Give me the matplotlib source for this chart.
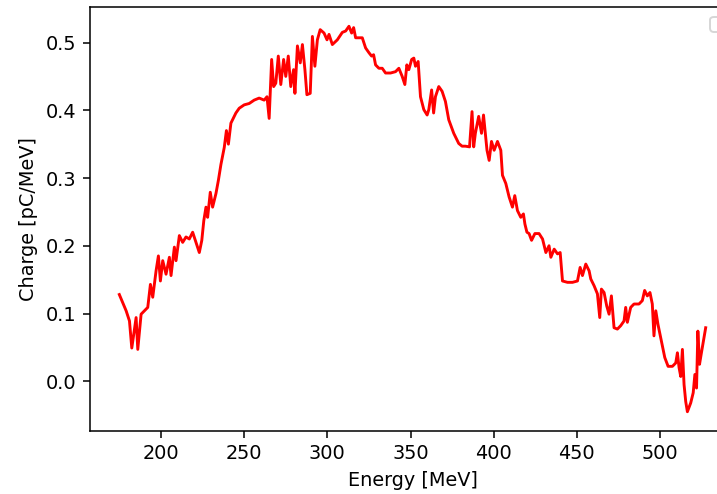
import matplotlib
matplotlib.use("Agg")
import matplotlib.pyplot as plt

# Energy spectrum
energy = [174.9, 179, 181, 182.4, 185, 186, 188, 190, 192, 193.6, 195, 197, 198.4, 199.6,
          201, 203, 205, 206, 208, 209, 211, 213, 215, 217, 219, 221, 223, 224.5, 225.7,
          227, 228, 229.6, 231, 233, 234.5, 236, 238, 239.3, 240.5, 242,
          245, 247, 250, 253, 256, 259, 262, 263.7, 265, 266.5, 267.7, 269, 270.5, 272,
          273.7, 275, 276.5, 278, 279.7, 280.5, 282, 283.7, 285, 286.5, 287.7, 289.7, 291,
          292.5, 294, 295.7, 298, 299.8, 301, 303, 306, 309, 311, 313, 314.6, 315.8, 317,
          319, 321, 323, 325, 326.6, 327.8, 329, 331, 333, 335, 338, 341, 343, 345, 346.6,
          347.8, 349, 350.7, 352, 353, 354.6, 356, 358, 360, 361, 362.7, 363.9, 365, 367,
          369, 371, 373, 376, 379, 381, 383, 385.5, 387, 388, 389, 391, 392.7, 393.9, 396,
          397.3, 398.7, 400.3, 402.3, 404.3, 405.3, 407.3, 409.3, 411.3, 412.7, 414.3, 416.3,
          417.9, 418.8, 420, 421.3, 422.8, 424.8, 427.3, 429.4, 431.4, 433.3, 434.4, 436.4,
          438.4, 440, 441.4, 444.4, 447.4, 450.4, 452, 453.4, 455.4, 457.4, 458.4, 460.4,
          462.4, 463.8, 464.8, 466.4, 468, 469.4, 470.8, 472.4, 474.4, 476.4, 478.4, 479.4,
          480.4, 482.4, 484.4, 487.4, 489.4, 490.8, 492.4, 494, 495.4, 496.4, 497.5, 498.8,
          500.9, 502.9, 504.9, 507.5, 509.5, 510.5, 511.5, 512.5, 513.5, 514.5, 515.5, 516.5,
          518.5, 520, 521, 522, 522.8, 523.8, 524.8, 527.5]
charge = [0.128, 0.104, 0.089, 0.049, 0.094, 0.047, 0.099, 0.104, 0.109, 0.143, 0.124, 0.163,
          0.185, 0.148, 0.178, 0.158, 0.183, 0.156, 0.198, 0.178, 0.215, 0.205, 0.213, 0.210,
          0.220, 0.205, 0.190, 0.208, 0.237, 0.257, 0.242, 0.279, 0.257, 0.277, 0.297, 0.320,
          0.345, 0.370, 0.350, 0.381,
          0.396, 0.403, 0.408, 0.410, 0.415, 0.418, 0.415, 0.420, 0.388, 0.475, 0.435, 0.440,
          0.480, 0.438, 0.475, 0.450, 0.480, 0.435, 0.460, 0.425, 0.495, 0.470, 0.497, 0.460,
          0.423, 0.425, 0.509, 0.465, 0.504, 0.519, 0.514, 0.504, 0.512, 0.497, 0.504, 0.515,
          0.517, 0.524, 0.514, 0.522, 0.507, 0.507, 0.507, 0.492, 0.485, 0.480, 0.482, 0.467,
          0.462, 0.462, 0.455, 0.455, 0.457, 0.462, 0.450, 0.438, 0.467, 0.460, 0.475, 0.477,
          0.465, 0.472, 0.420, 0.401, 0.393, 0.401, 0.430, 0.396, 0.420, 0.435, 0.428, 0.413,
          0.386, 0.366, 0.351, 0.347, 0.347, 0.346, 0.398, 0.346, 0.366, 0.391, 0.366, 0.393,
          0.341, 0.326, 0.354, 0.341, 0.354, 0.341, 0.304, 0.292, 0.272, 0.257, 0.274, 0.252,
          0.242, 0.247, 0.232, 0.220, 0.218, 0.208, 0.218, 0.218, 0.210, 0.190, 0.200, 0.183,
          0.195, 0.188, 0.190, 0.148, 0.146, 0.146, 0.148, 0.168, 0.156, 0.173, 0.163, 0.151,
          0.141, 0.129, 0.094, 0.136, 0.131, 0.111, 0.099, 0.126, 0.079, 0.077, 0.082, 0.089,
          0.109, 0.087, 0.109, 0.114, 0.114, 0.119, 0.134, 0.126, 0.131, 0.114, 0.067, 0.104,
          0.084, 0.059, 0.035, 0.022, 0.022, 0.027, 0.042, 0.020, 0.007, 0.047, -0.005, -0.030,
          -0.045, -0.032, -0.017, 0.010, -0.010, 0.074, 0.025, 0.040, 0.079]

dpi = 138.6
fig = plt.figure(figsize=(717 / dpi, 494 / dpi), dpi=dpi)
# axes runs past the right edge, like the cropped reference
ax = fig.add_axes([90 / 717, 63 / 494, 645 / 717, 424 / 494])

ax.plot(energy, charge, color='r')
ax.set_xlabel("Energy [MeV]")
ax.set_ylabel("Charge [pC/MeV]")
ax.legend()

fig.savefig("out.png", dpi=dpi)
